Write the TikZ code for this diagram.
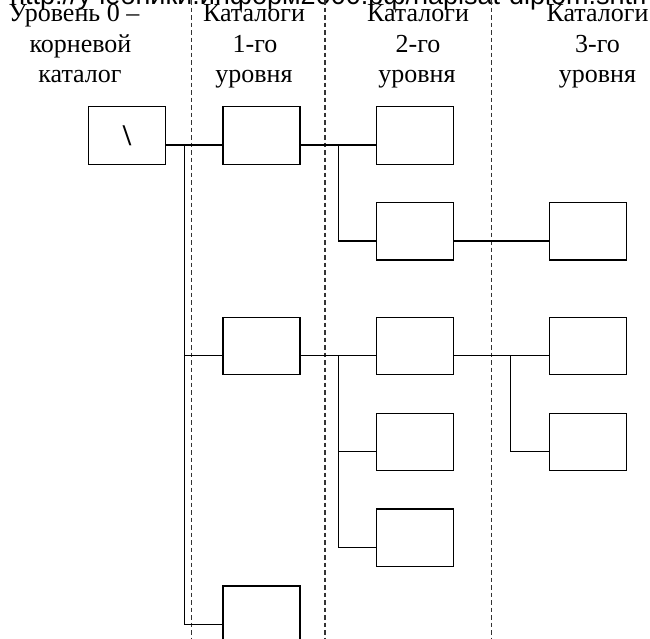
\documentclass[tikz,border=0pt]{standalone}
\usepackage{fontspec}
\setmainfont{Liberation Serif}
\newfontfamily\urlfont{Liberation Sans}
\begin{document}
\begin{tikzpicture}[x=1pt,y=-1pt,
  box/.style={draw, line width=1.4pt, minimum width=77pt, minimum height=57.5pt, inner sep=0pt},
  conn/.style={line width=1.3pt},
  sep/.style={line width=1.1pt, dash pattern=on 4.5pt off 3pt, black!80},
  lbl/.style={anchor=base, inner sep=0pt, font=\fontsize{26}{30}\selectfont}]
\useasboundingbox (0,0) rectangle (650,638);
\clip (0,0) rectangle (650,638);
% watermark
\node[anchor=base west, inner sep=0pt, font=\urlfont\fontsize{27}{30}\selectfont] (url) at (10,4) {http://учебники.информ2000.рф/napisat-diplom.shtml};
% separators
\coordinate (s1t) at (191.7,0); \coordinate (s1b) at (191.7,638);
\coordinate (s2t) at (325,0);   \coordinate (s2b) at (325,638);
\coordinate (s3t) at (491.7,0); \coordinate (s3b) at (491.7,638);
\draw[sep] (s1t) -- (s1b);
\draw[sep] (s2t) -- (s2b);
\draw[sep] (s3t) -- (s3b);
% headings
\node[lbl] (h0a) at (74,21.5) {Уровень 0 –};
\node[lbl] (h0b) at (80.5,52.5) {корневой};
\node[lbl] (h0c) at (80,82) {каталог};
\node[lbl] (h1a) at (254,21.5) {Каталоги};
\node[lbl] (h1b) at (255,52.5) {1-го};
\node[lbl] (h1c) at (254,82) {уровня};
\node[lbl] (h2a) at (418,21.5) {Каталоги};
\node[lbl] (h2b) at (418,52.5) {2-го};
\node[lbl] (h2c) at (417,82) {уровня};
\node[lbl] (h3a) at (597.5,21.5) {Каталоги};
\node[lbl] (h3b) at (597.5,52.5) {3-го};
\node[lbl] (h3c) at (597.5,82) {уровня};
% boxes
\node[box, font=\bfseries\fontsize{30}{34}\selectfont] (r) at (127,135.5) {\textbackslash};
\node[box] (a1) at (261.4,135.5) {};
\node[box] (a2) at (261.4,346) {};
\node[box] (a3) at (261.4,614.8) {};
\node[box] (b1) at (414.8,135.5) {};
\node[box] (b2) at (414.8,231.4) {};
\node[box] (b3) at (414.8,346) {};
\node[box] (b4) at (414.8,442) {};
\node[box] (b5) at (414.8,537.8) {};
\node[box] (c1) at (587.7,231.4) {};
\node[box] (c2) at (587.7,346) {};
\node[box] (c3) at (587.7,442) {};
\foreach \n in {r,a1,a2,a3,b1,b2,b3,b4,b5,c1,c2,c3} {
  \coordinate (\n w) at ([yshift=-9.6pt]\n.west);
  \coordinate (\n e) at ([yshift=-9.6pt]\n.east);
}
\coordinate (ta) at (184.3,0);
\coordinate (tb) at (338.5,0);
\coordinate (tc) at (510.7,0);
% connectors
\draw[conn] (re) -- (a1w);
\draw[conn] (re -| ta) |- (a3w);
\draw[conn] (a2w -| ta) -- (a2w);
\draw[conn] (a1e) -- (b1w);
\draw[conn] (a1e -| tb) |- (b2w);
\draw[conn] (b2e) -- (c1w);
\draw[conn] (a2e) -- (b3w);
\draw[conn] (a2e -| tb) |- (b5w);
\draw[conn] (b4w -| tb) -- (b4w);
\draw[conn] (b3e) -- (c2w);
\draw[conn] (b3e -| tc) |- (c3w);
\end{tikzpicture}
\end{document}
